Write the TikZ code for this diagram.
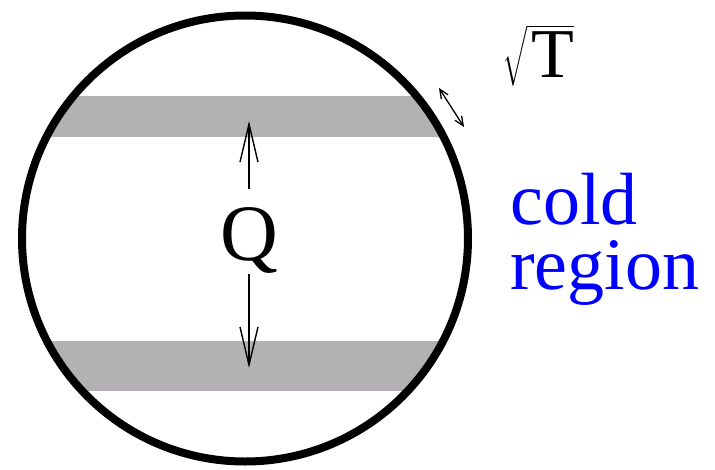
\documentclass[tikz,border=0pt]{standalone}
\usepackage{amsmath}
\usepackage{fontspec}
\setmainfont{Liberation Serif}
\usetikzlibrary{arrows.meta}
\definecolor{bandgray}{RGB}{180,177,181}
\definecolor{coldblue}{RGB}{0,0,255}

\begin{document}
\begin{tikzpicture}[x=1pt, y=-1pt, >={Straight Barb[length=38pt, width=18pt]}]
            \useasboundingbox (0,0) rectangle (715,469);
            \coordinate (c) at (245,238.5);
            \begin{scope}
                \clip (c) circle (223);
                \fill[bandgray] (0,96) rectangle (500,137);
                \fill[bandgray] (0,341) rectangle (500,391);
            \end{scope}
            \draw[line width=8pt] (c) circle (223);
            \node[inner sep=0, anchor=base, font=\fontsize{80}{90}\selectfont] (Q) at (249,260) {Q};
            \coordinate (uptop) at (249,121);
            \coordinate (downtip) at (249,368);
            \draw[->, line width=1.4pt] ([yshift=18pt]Q.north) -- (uptop);
            \draw[->, line width=1.4pt] ([yshift=-1pt]Q.south) -- (downtip);
            \coordinate (wa) at (439,88);
            \coordinate (wb) at (464,127);
            \draw[{Straight Barb[length=9pt, width=8pt]}-{Straight Barb[length=9pt, width=8pt]}, line width=1.3pt] (wa) -- (wb);
            \node[inner sep=0, anchor=base east, font=\fontsize{70}{80}\selectfont] (width) at (574,77) {$\sqrt{\rule[-8pt]{0pt}{56pt}\,\text{T}}$};
            \node[inner sep=0, anchor=north west, align=left, text=coldblue, font=\fontsize{74}{65}\selectfont] (cold) at (510,173) {cold\\region};
        \end{tikzpicture}
\end{document}
